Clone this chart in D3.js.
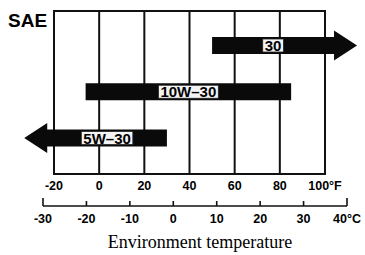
<!DOCTYPE html>
<meta charset="utf-8">
<style>
  body { margin: 0; background: #fff; }
  text { font-family: Arial, "Liberation Sans", sans-serif; fill: #000; }
  .tick-f, .tick-c { font-weight: bold; font-size: 12.5px; }
  .grade { font-weight: bold; font-size: 15px; }
</style>
<body>
<svg width="365" height="255"></svg>
<script src="https://d3js.org/d3.v7.min.js"></script>
<script>

// oil grades, range in degrees F (body of the bar), arrow direction
var grades = ["30", "10W\u201330", "5W\u201330"];
var gradeFrom = [50, -6, -23];
var gradeTo = [104, 85, 30];
var gradeArrow = ["right", "none", "left"];

var fTicks = [-20, 0, 20, 40, 60, 80, 100];
var cTicks = [-30, -20, -10, 0, 10, 20, 30, 40];

const svg = d3.select('svg');

const xF = d3.scaleLinear().domain([-20, 100]).range([54, 325]);
const xC = d3.scaleLinear().domain([-30, 40]).range([43, 347]);
const y = d3.scalePoint().domain(grades).range([45.5, 138]);

const boxTop = 11, boxBottom = 174;
const barH = 17, headLen = 23, headHalf = 15;

// grid box
svg.append('rect')
  .attr('x', xF(-20)).attr('y', boxTop)
  .attr('width', xF(100) - xF(-20)).attr('height', boxBottom - boxTop)
  .attr('fill', 'none').attr('stroke', '#111').attr('stroke-width', 2);

svg.selectAll('.grid')
  .data(fTicks.slice(1, -1))
  .enter().append('line')
  .attr('class', 'grid')
  .attr('x1', d => xF(d)).attr('x2', d => xF(d))
  .attr('y1', boxTop).attr('y2', boxBottom)
  .attr('stroke', '#111').attr('stroke-width', 2);

svg.append('text')
  .attr('x', 8).attr('y', 27)
  .style('font-weight', 'bold').style('font-size', '19px')
  .text('SAE');

// bars with arrow heads
var rows = grades.map((g, i) => ({name: g, from: gradeFrom[i], to: gradeTo[i], arrow: gradeArrow[i]}));

function barPath(d) {
  const x0 = xF(d.from), x1 = xF(d.to), cy = y(d.name), h = barH / 2;
  if (d.arrow === 'right') {
    return `M${x0},${cy - h}L${x1},${cy - h}L${x1},${cy - headHalf}L${x1 + headLen},${cy}` +
      `L${x1},${cy + headHalf}L${x1},${cy + h}L${x0},${cy + h}Z`;
  }
  if (d.arrow === 'left') {
    return `M${x1},${cy - h}L${x0},${cy - h}L${x0},${cy - headHalf}L${x0 - headLen},${cy}` +
      `L${x0},${cy + headHalf}L${x0},${cy + h}L${x1},${cy + h}Z`;
  }
  return `M${x0},${cy - h}H${x1}V${cy + h}H${x0}Z`;
}

const bar = svg.selectAll('.bar')
  .data(rows)
  .enter().append('g')
  .attr('class', 'bar');

bar.append('path')
  .attr('d', barPath)
  .attr('fill', '#0a0a0a');

bar.each(function(d) {
  const g = d3.select(this);
  const cx = (xF(d.from) + xF(d.to)) / 2, cy = y(d.name);
  const t = g.append('text')
    .attr('class', 'grade')
    .attr('x', cx).attr('y', cy + 5.5)
    .attr('text-anchor', 'middle')
    .text(d.name);
  const w = t.node().getComputedTextLength();
  g.insert('rect', 'text')
    .attr('x', cx - w / 2 - 2).attr('y', cy - 6.5)
    .attr('width', w + 4).attr('height', 13)
    .attr('fill', '#f4f4f4').attr('stroke', '#222').attr('stroke-width', 0.8);
});

// Fahrenheit labels
svg.selectAll('.tick-f')
  .data(fTicks)
  .enter().append('text')
  .attr('class', 'tick-f')
  .attr('x', d => xF(d)).attr('y', 190)
  .attr('text-anchor', 'middle')
  .text(d => d === 100 ? d + '\u00b0F' : d);

// Celsius axis
const cAxis = svg.append('g');
cAxis.append('line')
  .attr('x1', xC(-30)).attr('x2', xC(40))
  .attr('y1', 206).attr('y2', 206)
  .attr('stroke', '#111').attr('stroke-width', 1.6);
cAxis.selectAll('.ctick')
  .data(cTicks)
  .enter().append('line')
  .attr('x1', d => xC(d)).attr('x2', d => xC(d))
  .attr('y1', (d, i) => (i === 0 || i === cTicks.length - 1) ? 198 : 201)
  .attr('y2', 206)
  .attr('stroke', '#111').attr('stroke-width', 1.6);

svg.selectAll('.tick-c')
  .data(cTicks)
  .enter().append('text')
  .attr('class', 'tick-c')
  .attr('x', d => xC(d)).attr('y', 223)
  .attr('text-anchor', 'middle')
  .text(d => d === 40 ? d + '\u00b0C' : d);

svg.append('text')
  .attr('x', 200).attr('y', 248)
  .attr('text-anchor', 'middle')
  .style('font-family', '"Liberation Serif", "DejaVu Serif", serif')
  .style('font-size', '18px')
  .text('Environment temperature');

</script>
</body>
